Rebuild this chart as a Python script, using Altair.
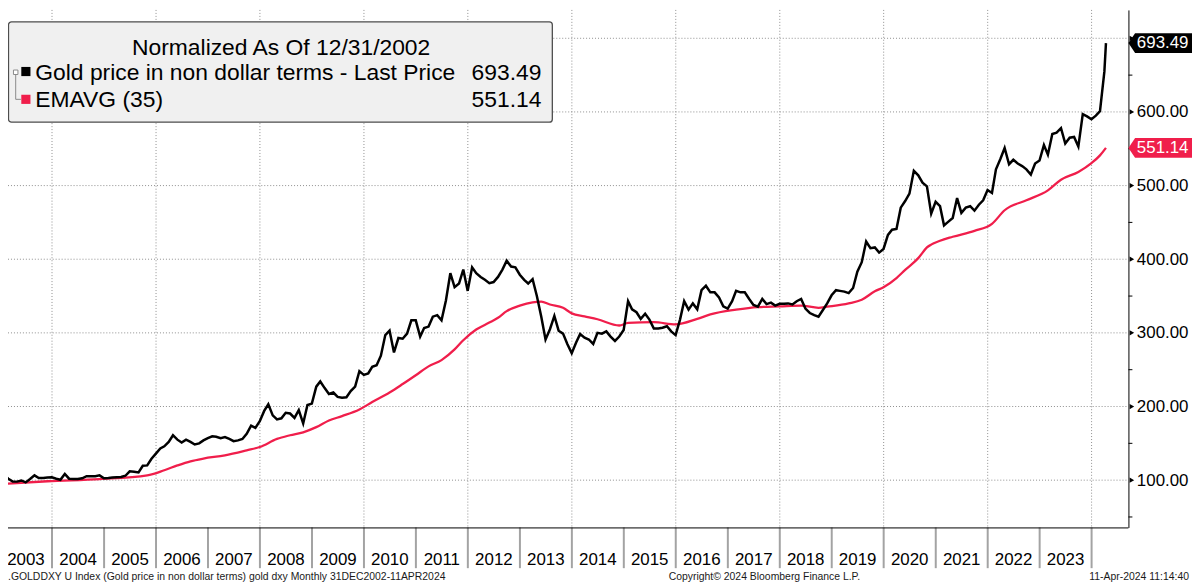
import altair as alt
import pandas as pd

# ---------------- data ----------------
# Gold price in non dollar terms, monthly (month-end), Dec 2002 .. Mar 2024, then last print
black_values = [
    100, 106.5, 102, 98, 98, 99.6, 97, 101.5, 106.5, 103,
    103, 103.5, 104, 102, 100.5, 108.5, 102, 101.5, 101.5, 102.5,
    105.4, 105.4, 105.4, 106.5, 102.5, 103, 103.6, 104, 104.4, 106,
    112, 111.5, 110.5, 119.5, 120, 129, 136, 143, 146, 152,
    161, 155, 151, 155, 152, 148.5, 150, 154, 157, 159.5,
    159, 157, 158.5, 156, 153, 154, 156, 163, 174, 171,
    180, 194, 203, 188, 182.5, 184, 191.5, 190.5, 184.5, 195,
    177, 202, 204, 227, 234, 225, 217, 219, 213, 212,
    212.5, 221, 227, 248, 243, 245, 254, 256, 269, 297,
    303, 273.5, 293, 292, 299, 317, 317, 295, 306.5, 308.5,
    322, 324, 317, 344, 381, 362, 367, 386, 357, 389,
    381, 376, 372, 367.5, 369, 376, 386, 398, 390, 389,
    379, 372, 367, 373, 350, 322, 291, 305, 323, 303,
    299, 285, 272.5, 287, 298.5, 293.5, 291, 285, 300, 299,
    302, 295, 289, 295, 304, 343, 332, 328, 319, 326,
    318, 306, 306, 307, 309, 302, 297, 318, 343, 331.5,
    340, 332, 358, 364, 355, 355, 348, 336, 333, 343,
    357, 355, 355, 346, 338, 335.5, 346, 339, 341, 337,
    339.5, 339.5, 340, 338.5, 343, 346, 333, 327, 324, 322,
    331, 340, 351, 358, 357, 356, 354, 361, 383, 396,
    424, 415, 416, 409, 414, 433, 440, 441, 470, 479,
    489, 520, 514, 504, 499, 462, 478, 472, 446, 451,
    456, 483, 463, 470, 472, 466, 474, 480, 494, 490,
    522, 536, 551, 529, 535, 530, 526.5, 522, 515, 530,
    534, 555, 542, 570, 572, 578, 557, 565, 566, 553,
    597, 594, 590, 595, 601, 655,
]
last_date = "2024-04-11"
last_price = 693.49

# EMAVG (35), read at selected months
red_months = [
    "2002-12", "2003-11", "2004-11", "2005-10", "2006-02", "2006-05", "2006-08", "2006-11",
    "2007-04", "2007-09", "2007-12", "2008-04", "2008-07", "2008-10", "2009-01", "2009-04",
    "2009-07", "2009-11", "2010-02", "2010-06", "2010-09", "2010-12", "2011-03", "2011-06",
    "2011-09", "2011-11", "2012-02", "2012-05", "2012-07", "2012-09", "2012-12", "2013-03",
    "2013-05", "2013-07", "2013-10", "2013-12", "2014-03", "2014-06", "2014-11", "2015-01",
    "2015-07", "2015-12", "2016-05", "2016-08", "2017-02", "2017-07", "2017-12", "2018-05",
    "2018-09", "2018-11", "2019-04", "2019-07", "2019-10", "2019-12", "2020-03", "2020-05",
    "2020-08", "2020-10", "2021-01", "2021-04", "2021-09", "2022-01", "2022-04", "2022-09",
    "2023-02", "2023-05", "2023-09", "2023-12", "2024-02",
]
red_values = [
    94.5, 98.5, 101.5, 106.5, 113.5, 120, 125.6, 129.3,
    133.7, 140.5, 145, 156, 161, 165, 172, 181,
    187, 196, 206, 219, 230.5, 242.5, 254.5, 263,
    277.5, 290, 304.5, 314, 320.5, 329.5, 337, 341.5,
    342.5, 338.5, 334, 326.5, 322.5, 318.5, 310, 313.5,
    314.5, 311.5, 319, 325, 331.5, 335, 336, 337,
    334, 335.5, 340, 345, 356.5, 362, 374.5, 385.5,
    401.5, 416, 425, 430.5, 438.5, 448, 466.5, 480,
    493.5, 508, 518.5, 530.5, 541,
]
ema_last = 551.14

grid_values = [100, 200, 300, 400, 500, 600, 700]
label_values = [100, 200, 300, 400, 500, 600]   # 700.00 sits under the last-price tag
y_minor = [50, 150, 250, 350, 450, 550, 650]
label_years = list(range(2003, 2024))
sep_years = list(range(2004, 2025))
grid_years = list(range(2004, 2025, 2))

legend_title = "Normalized As Of 12/31/2002"
series_names = ["Gold price in non dollar terms - Last Price", "EMAVG (35)"]
footer_left = ".GOLDDXY U Index (Gold price in non dollar terms) gold dxy  Monthly 31DEC2002-11APR2024"
footer_mid = "Copyright\u00a9 2024 Bloomberg Finance L.P."
footer_right = "11-Apr-2024 11:14:40"

# ---------------- tables ----------------
def month_end(s):
    return (pd.Timestamp(s + "-01") + pd.offsets.MonthEnd(0)).strftime("%Y-%m-%d")

black_dates = (pd.date_range("2003-01-01", periods=len(black_values), freq="MS")
               - pd.Timedelta(days=1)).strftime("%Y-%m-%d").tolist()
df_black = pd.DataFrame({"date": black_dates + [last_date],
                         "value": black_values + [last_price]})
df_red = pd.DataFrame({"date": [month_end(m) for m in red_months] + [last_date],
                       "value": red_values + [ema_last]})
df_last = pd.DataFrame({"value": [last_price]})
df_ema = pd.DataFrame({"value": [ema_last]})
df_yt = pd.DataFrame({"value": grid_values})
df_ym = pd.DataFrame({"value": y_minor})
df_grid_x = pd.DataFrame({"date": [f"{y}-01-01" for y in grid_years]})
df_sep = pd.DataFrame({"date": [f"{y}-01-01" for y in sep_years]})
df_lab = pd.DataFrame({"date": [f"{y}-07-02" for y in label_years],
                       "year": [str(y) for y in label_years]})
one = pd.DataFrame({"k": [0]})

# ---------------- styling ----------------
FONT = "Liberation Sans"
W, H = 1128, 521
RED = "#f01e4b"
GRID = "#8f8f8f"

xscale = alt.Scale(type="utc", domain=[
    alt.DateTime(year=2003, month=2, date=25, hours=19, utc=True),
    alt.DateTime(year=2024, month=9, date=15, hours=21, utc=True)])
yscale = alt.Scale(domain=[35.8, 738.5], zero=False, nice=False)
yaxis = alt.Axis(orient="right", values=label_values, format=".2f", grid=False, ticks=False,
                 tickSize=0, domain=True, domainColor="#000", domainWidth=1,
                 labelFont=FONT, labelFontSize=17, labelColor="#000", labelPadding=8,
                 labelOverlap=False, labelFlush=False, title=None)


def X():
    return alt.X("date:T", scale=xscale, axis=None)


def Y():
    return alt.Y("value:Q", scale=yscale, axis=yaxis)


def txt(s, x, y, size=23, align="left", color="#000", baseline="alphabetic"):
    return alt.Chart(pd.DataFrame({"t": [s]})).mark_text(
        font=FONT, fontSize=size, align=align, baseline=baseline, color=color
    ).encode(x=alt.value(x), y=alt.value(y), text="t:N")


# ---------------- layers ----------------
hgrid = alt.Chart(df_yt).mark_rule(color=GRID, strokeWidth=1, strokeDash=[1, 2]).encode(
    y=Y(), x=alt.value(0), x2=alt.value(W))
vgrid = alt.Chart(df_grid_x).mark_rule(color=GRID, strokeWidth=1, strokeDash=[1, 2]).encode(
    x=X(), y=alt.value(0), y2=alt.value(H))
seps = alt.Chart(df_sep).mark_rule(color="#a3a3a3", strokeWidth=2).encode(
    x=X(), y=alt.value(H), y2=alt.value(562))
bottom = alt.Chart(one).mark_rule(color="#000", strokeWidth=1).encode(
    x=alt.value(0), x2=alt.value(W), y=alt.value(H + 0.5))
minor = alt.Chart(df_ym).mark_rule(color="#000", strokeWidth=1).encode(
    y=Y(), x=alt.value(W), x2=alt.value(W + 4))
majors = alt.Chart(df_yt).mark_point(shape="triangle-right", filled=True, size=28,
                                     color="#000", opacity=1).encode(
    y=Y(), x=alt.value(W + 3.5))

red_line = alt.Chart(df_red).mark_line(color=RED, strokeWidth=2.3, clip=True,
                                       interpolate="monotone").encode(x=X(), y=Y())
black_line = alt.Chart(df_black).mark_line(color="#000", strokeWidth=2.5, clip=True).encode(
    x=X(), y=Y())

year_labels = alt.Chart(df_lab).mark_text(font=FONT, fontSize=17, align="center",
                                          baseline="alphabetic", color="#000").encode(
    x=X(), y=alt.value(558.5), text="year:N")

tag_path = "M-1,0L-0.79,-0.3125L1,-0.3125L1,0.3125L-0.79,0.3125Z"
tag_black = alt.Chart(df_last).mark_point(shape=tag_path, filled=True, size=4096,
                                          color="#000", opacity=1).encode(
    y=Y(), x=alt.value(W + 32))
tag_black_t = alt.Chart(df_last).mark_text(font=FONT, fontSize=17, align="left",
                                           baseline="middle", color="#fff").encode(
    y=Y(), x=alt.value(W + 8.5), text=alt.Text("value:Q", format=".2f"))
tag_red = alt.Chart(df_ema).mark_point(shape=tag_path, filled=True, size=4096,
                                       color=RED, opacity=1).encode(
    y=Y(), x=alt.value(W + 32))
tag_red_t = alt.Chart(df_ema).mark_text(font=FONT, fontSize=17, align="left",
                                        baseline="middle", color="#fff").encode(
    y=Y(), x=alt.value(W + 8.5), text=alt.Text("value:Q", format=".2f"))

# legend box
box = alt.Chart(one).mark_rect(fill="#f0f0f0", stroke="#4d4d4d", strokeWidth=1.3,
                               cornerRadius=3).encode(
    x=alt.value(0.5), x2=alt.value(548), y=alt.value(12), y2=alt.value(113))
tree_box = alt.Chart(one).mark_rect(fill="#ffffff", stroke="#8a8a8a", strokeWidth=1).encode(
    x=alt.value(5.5), x2=alt.value(10), y=alt.value(60.5), y2=alt.value(65))
tree_v = alt.Chart(one).mark_rule(color="#8a8a8a", strokeWidth=1).encode(
    x=alt.value(7.75), y=alt.value(65), y2=alt.value(90))
tree_h = alt.Chart(one).mark_rule(color="#8a8a8a", strokeWidth=1).encode(
    x=alt.value(7.75), x2=alt.value(13), y=alt.value(90))
sq_black = alt.Chart(one).mark_point(shape="square", filled=True, size=85, color="#000",
                                     opacity=1).encode(x=alt.value(18), y=alt.value(62))
sq_red = alt.Chart(one).mark_point(shape="square", filled=True, size=85, color=RED,
                                   opacity=1).encode(x=alt.value(18), y=alt.value(90))

leg_title = txt(legend_title, 275, 45, align="center")
leg_n1 = txt(series_names[0], 27.5, 70.5)
leg_n2 = txt(series_names[1], 27.5, 97.5)
leg_v1 = alt.Chart(df_last).mark_text(font=FONT, fontSize=23, align="right",
                                      baseline="alphabetic", color="#000").encode(
    x=alt.value(537), y=alt.value(70.5), text=alt.Text("value:Q", format=".2f"))
leg_v2 = alt.Chart(df_ema).mark_text(font=FONT, fontSize=23, align="right",
                                     baseline="alphabetic", color="#000").encode(
    x=alt.value(537), y=alt.value(97.5), text=alt.Text("value:Q", format=".2f"))

f_left = txt(footer_left, 0, 574, size=10.5, color="#1a1a1a")
f_mid = txt(footer_mid, 761.5, 574, size=10.5, align="center", color="#1a1a1a")
f_right = txt(footer_right, 1189, 574, size=10.5, align="right", color="#1a1a1a")

chart = alt.layer(
    hgrid, vgrid, seps, bottom, red_line, black_line, minor, majors,
    tag_black, tag_black_t, tag_red, tag_red_t, year_labels,
    box, tree_box, tree_v, tree_h, sq_black, sq_red,
    leg_title, leg_n1, leg_n2, leg_v1, leg_v2,
    f_left, f_mid, f_right,
).properties(
    width=W, height=H,
    padding={"left": 0, "top": 0, "right": 64, "bottom": 56},
    autosize=alt.AutoSizeParams(type="none"),
    background="white",
).configure_view(stroke=None)

chart.save("out.html", embed_options={"renderer": "svg", "actions": False})
